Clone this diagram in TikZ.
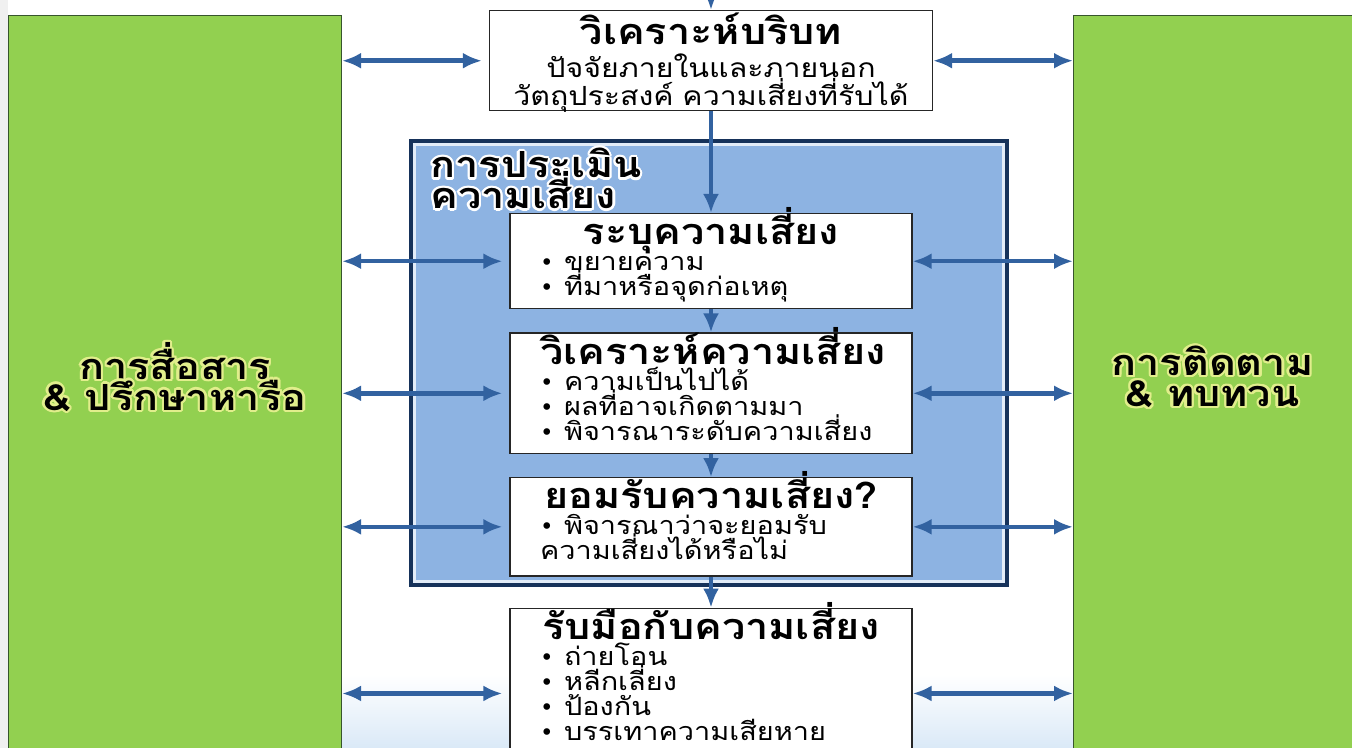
\documentclass[tikz,border=0pt]{standalone}
\usepackage{fontspec}
\usepackage{contour}
\usetikzlibrary{arrows.meta, positioning}

\setmainfont{Loma}[Script=Thai, FakeStretch=1.15]
\newfontfamily\symfont{DejaVu Sans}

\definecolor{boxgreen}{RGB}{146,208,80}
\definecolor{sideline}{RGB}{55,85,45}
\definecolor{framefill}{RGB}{141,179,226}
\definecolor{frameline}{RGB}{22,50,90}
\definecolor{arrowblue}{RGB}{50,98,160}
\definecolor{glow}{RGB}{225,238,140}
\definecolor{paleblue}{RGB}{218,233,247}

\newcommand{\headsize}{\fontsize{20.5}{24}\selectfont}
\newcommand{\sidesize}{\fontsize{20.5}{17.5}\selectfont}
\newcommand{\itemsize}{\fontsize{14.3}{14.3}\selectfont}
\newcommand{\ctxsize}{\fontsize{15}{16}\selectfont}
\newcommand{\bul}{\makebox[0.48cm][l]{\symfont\fontsize{13}{13}\selectfont •}}
\newcommand{\boxhead}[2][0.56cm]{{\centering\headsize\bfseries\raisebox{0pt}[#1][0.12cm]{#2}\par}\vspace{0.02cm}}
\newcommand{\boxfoot}[1]{\rule[-0.2cm]{0pt}{0.2cm}\par\kern#1\relax}
\contourlength{1.3pt}

\begin{document}
\begin{tikzpicture}[
    every node/.append style = {execute at begin node={\lineskiplimit=-30pt\relax}},
    sidebox/.style  = {draw=sideline, fill=boxgreen, line width=0.6pt,
                       minimum width=#1, minimum height=15.1cm, anchor=north west},
    sidetext/.style = {align=center, font=\sidesize\bfseries, yshift=0.3cm},
    stepbox/.style  = {draw=black!85, fill=white, line width=0.7pt,
                       text width=6.84cm, inner xsep=0.6cm, inner ysep=0.06cm,
                       align=left, font=\itemsize},
    arr/.style      = {-{Latex[length=0.38cm, width=0.32cm]}, draw=arrowblue,
                       line width=0.09cm},
    dbl/.style      = {{Latex[length=0.38cm, width=0.32cm]}-{Latex[length=0.38cm, width=0.32cm]},
                       draw=arrowblue, line width=0.09cm}
  ]
  \useasboundingbox (0,0) rectangle (27.04,-14.96);
  % backdrop
  \fill[white] (0,0) rectangle (27.04,-14.96);
  \fill[top color=white, bottom color=paleblue] (0,-13.5) rectangle (27.04,-14.96);
  \fill[gray!12] (0,0) rectangle (0.16,-14.96);

  % side columns
  \node[sidebox=6.66cm, label={[sidetext]center:
        \contour{glow}{การสื่อสาร}\\\contour{glow}{\& ปรึกษาหารือ}}]
    (comm) at (0.16,-0.30) {};
  \node[sidebox=5.9cm, label={[sidetext, xshift=-0.17cm]center:
        \contour{glow}{การติดตาม}\\\contour{glow}{\& ทบทวน}}]
    (review) at (21.46,-0.30) {};

  % context
  \node[stepbox, text width=8.4cm, inner xsep=0.23cm, align=center, font=\ctxsize,
        anchor=north]
    (ctx) at (14.22,-0.20)
    {\boxhead[0.62cm]{วิเคราะห์บริบท}\vspace{0.08cm}
     ปัจจัยภายในและภายนอก\\
     วัตถุประสงค์ ความเสี่ยงที่รับได้\boxfoot{-0.16cm}};
  \coordinate (ctxin) at (14.22,0.6);

  % assessment frame
  \node[draw=frameline, line width=0.11cm, fill=framefill, minimum width=11.88cm,
        minimum height=8.84cm] (frame) at (14.18,-7.26) {};
  \draw[white!75!framefill, line width=0.06cm]
    ([xshift=0.1cm,yshift=-0.1cm]frame.north west) rectangle
    ([xshift=-0.1cm,yshift=0.1cm]frame.south east);
  \node[anchor=north west, align=left, font=\sidesize\bfseries]
    (frametitle) at ([xshift=0.3cm,yshift=-0.06cm]frame.north west)
    {\contour{white}{การประเมิน}\\\contour{white}{ความเสี่ยง}};

  % steps
  \node[stepbox, anchor=north] (ident) at (14.22,-4.26)
    {\boxhead{ระบุความเสี่ยง}
     \bul ขยายความ\\
     \bul ที่มาหรือจุดก่อเหตุ\boxfoot{0cm}};
  \node[stepbox, below=0.46cm of ident] (analyse)
    {\boxhead{วิเคราะห์ความเสี่ยง}
     \bul ความเป็นไปได้\\
     \bul ผลที่อาจเกิดตามมา\\
     \bul พิจารณาระดับความเสี่ยง\boxfoot{0cm}};
  \node[stepbox, below=0.46cm of analyse] (accept)
    {\boxhead{ยอมรับความเสี่ยง?}
     \bul พิจารณาว่าจะยอมรับ\\
     ความเสี่ยงได้หรือไม่\boxfoot{0.06cm}};
  \node[stepbox, below=0.62cm of accept] (treat)
    {\boxhead{รับมือกับความเสี่ยง}
     \bul ถ่ายโอน\\
     \bul หลีกเลี่ยง\\
     \bul ป้องกัน\\
     \bul บรรเทาความเสียหาย\boxfoot{0.5cm}};

  % flow
  \draw[arr] (ctxin) -- (ctx);
  \draw[arr] (ctx) -- (ident);
  \draw[arr] (ident) -- (analyse);
  \draw[arr] (analyse) -- (accept);
  \draw[arr] (accept) -- (treat);

  % links to the side columns
  \foreach \n in {ctx, ident, analyse, accept, treat} {
    \draw[dbl, shorten >=0.14cm] (comm.east |- \n.west) -- (\n.west);
    \draw[dbl] (\n.east) -- (review.west |- \n.east);
  }
\end{tikzpicture}
\end{document}
